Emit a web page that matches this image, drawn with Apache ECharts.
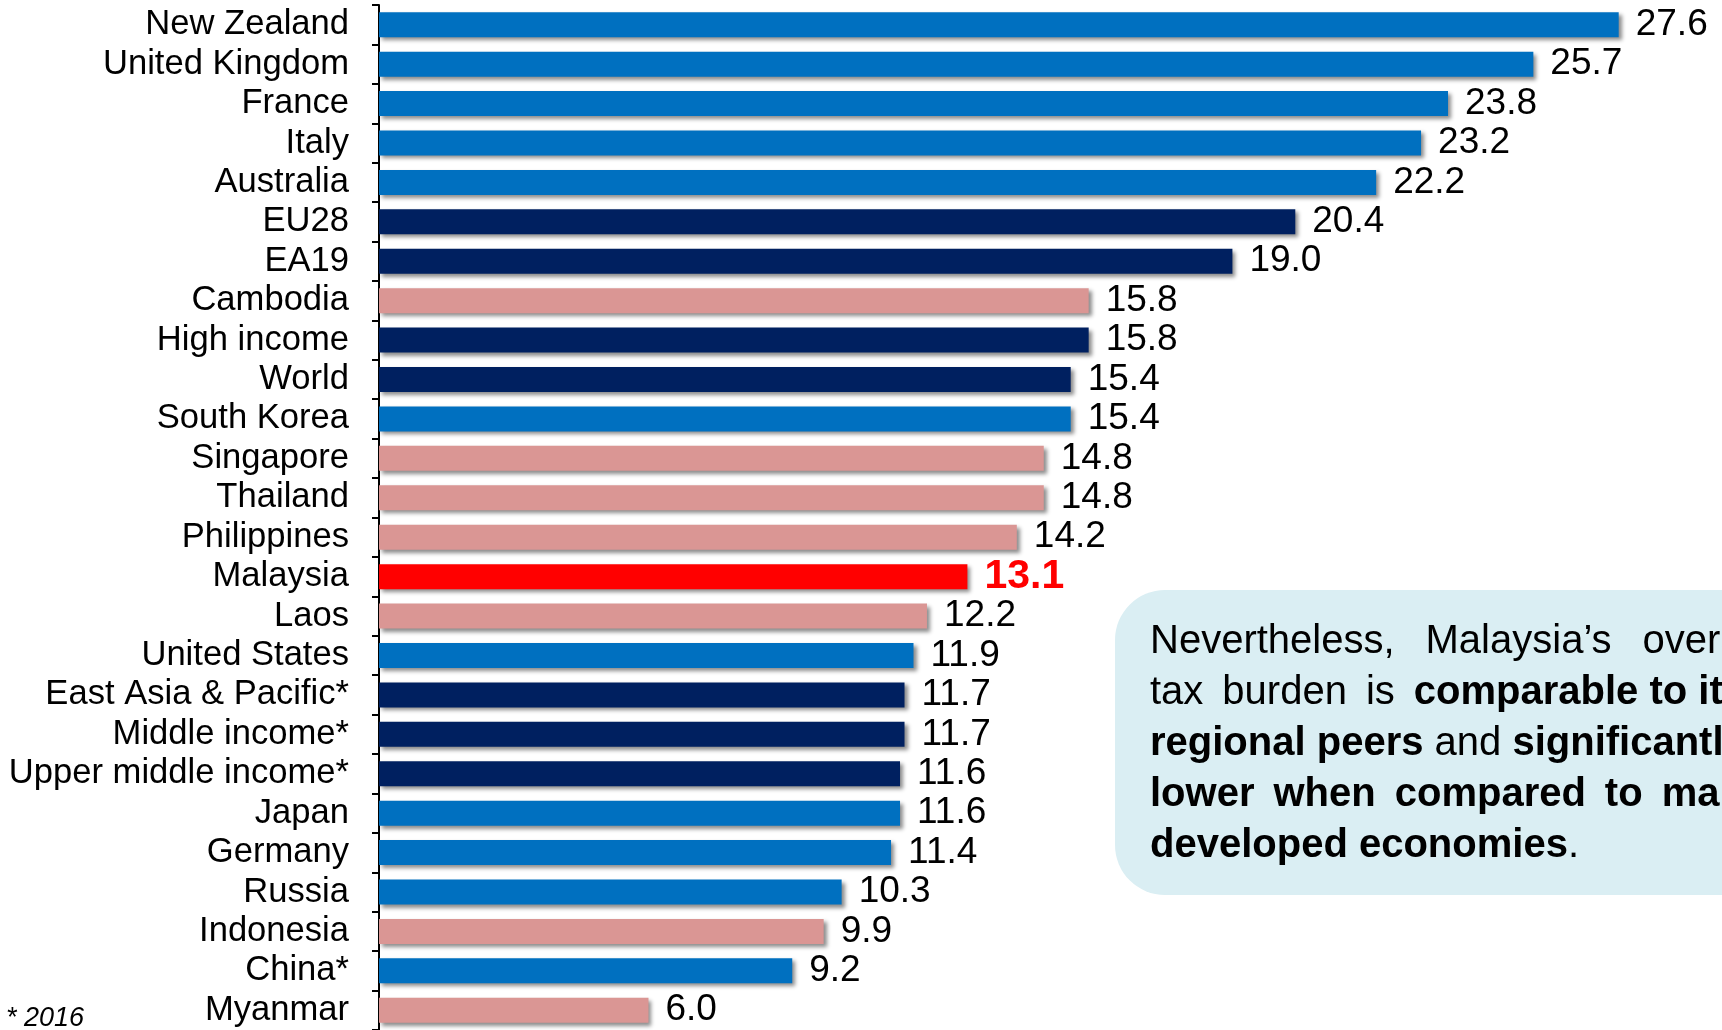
<!DOCTYPE html>
<html>
<head>
<meta charset="utf-8">
<script src="https://cdn.jsdelivr.net/npm/echarts@6/dist/echarts.min.js"></script>
<style>
html,body{margin:0;padding:0;background:#fff;}
#chart{width:1722px;height:1030px;}
</style>
</head>
<body>
<div id="chart"></div>
<script>
const categories = ["New Zealand","United Kingdom","France","Italy","Australia","EU28","EA19","Cambodia","High income","World","South Korea","Singapore","Thailand","Philippines","Malaysia","Laos","United States","East Asia & Pacific*","Middle income*","Upper middle income*","Japan","Germany","Russia","Indonesia","China*","Myanmar"];
const values = [27.6,25.7,23.8,23.2,22.2,20.4,19.0,15.8,15.8,15.4,15.4,14.8,14.8,14.2,13.1,12.2,11.9,11.7,11.7,11.6,11.6,11.4,10.3,9.9,9.2,6.0];
const groups = ["developed","developed","developed","developed","developed","aggregate","aggregate","asean","aggregate","aggregate","developed","asean","asean","asean","malaysia","asean","developed","aggregate","aggregate","aggregate","developed","developed","developed","asean","developed","asean"];
const footnote = "* 2016";
// each line: list of [style, text]; "g" tokens are justified word gaps
const boxLines = [
  [["n","Nevertheless,"],["g1"," "],["n","Malaysia\u2019s"],["g1"," "],["n","overall"]],
  [["n","tax"],["g2"," "],["n","burden"],["g2"," "],["n","is"],["g2"," "],["b","comparable to its"]],
  [["b","regional peers"],["n"," and "],["b","significantly"]],
  [["b","lower"],["g2"," "],["b","when"],["g2"," "],["b","compared"],["g2"," "],["b","to"],["g2"," "],["b","many"]],
  [["b","developed economies"],["n","."]]
];

const groupColors = {developed:"#0070C0", aggregate:"#002060", asean:"#DA9694", malaysia:"#FF0000"};
const FONT = "'Liberation Sans', Arial, Helvetica, sans-serif";

const chart = echarts.init(document.getElementById('chart'), null, {renderer:'canvas'});

const seriesData = values.map((v,i) => {
  const g = groups[i];
  const d = {value: v, itemStyle: {color: groupColors[g]}};
  if (g === 'malaysia') {
    d.label = {color:'#FF0000', fontWeight:'bold', fontSize:41};
  }
  return d;
});

const boxText = boxLines.map(line => line.map(([s,t]) => '{' + s + '|' + t + '}').join('')).join('\n');

chart.setOption({
  animation: false,
  backgroundColor: '#ffffff',
  grid: {left: 379, right: 0, top: 5, bottom: -2, containLabel: false},
  xAxis: {type:'value', min:0, max:29.9, show:false},
  yAxis: {
    type:'category', data: categories, inverse: true,
    axisLine: {show:true, lineStyle:{color:'#000', width:2}},
    axisTick: {show:true, length:7, lineStyle:{color:'#000', width:2}},
    axisLabel: {color:'#000', fontSize:34.6, fontFamily: FONT, margin: 30, interval: 0, padding:[4,0,0,0]}
  },
  series: [{
    type:'bar', data: seriesData, barWidth: 25,
    itemStyle: {shadowColor:'rgba(0,0,0,0.45)', shadowBlur:4, shadowOffsetX:3, shadowOffsetY:3},
    label: {show:true, position:'right', distance:17, color:'#000', fontSize:37, fontFamily: FONT,
      padding:[4,0,0,0], formatter: p => p.value.toFixed(1)}
  }],
  graphic: [
    {type:'rect', left:1115, top:590, shape:{width:700, height:305, r:50}, style:{fill:'#DAEEF3'}, z:1},
    {type:'text', x:1150, y:616, z:2, style:{
      text: boxText, fill:'#000', textVerticalAlign:'top', textAlign:'left',
      rich: {
        n: {fontSize:40, fontFamily: FONT, lineHeight:51, fill:'#000'},
        b: {fontSize:40, fontFamily: FONT, fontWeight:'bold', lineHeight:51, fill:'#000'},
        g1: {fontSize:40, fontFamily: FONT, lineHeight:51, width:31},
        g2: {fontSize:40, fontFamily: FONT, lineHeight:51, width:19}
      }
    }},
    {type:'text', x:6, y:1018, z:2, style:{text: footnote, fill:'#000', fontSize:27, fontStyle:'italic', fontFamily: FONT, textVerticalAlign:'middle'}}
  ]
});
</script>
</body>
</html>
